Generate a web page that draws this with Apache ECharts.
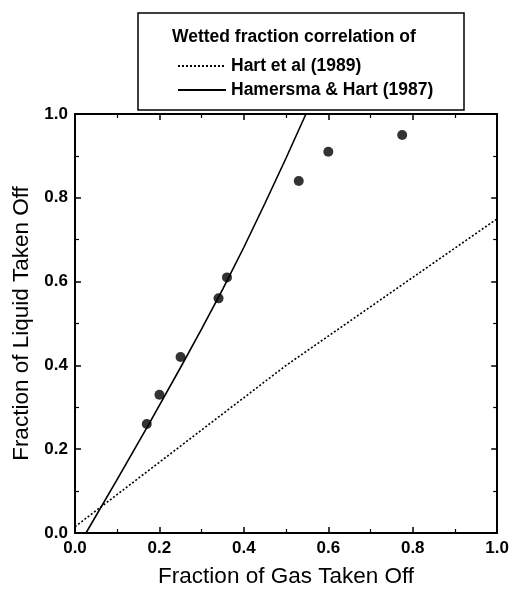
<!DOCTYPE html>
<html lang="en">
<head>
  <meta charset="UTF-8" />
  <title>Wetted fraction correlation</title>
  <script src="https://cdn.jsdelivr.net/npm/echarts@6/dist/echarts.min.js"></script>
</head>
<body style="margin:0;background:#fff">
  <div id="main" style="width:512px;height:593px;"></div>
  <script type="text/javascript">
    // measured points (gas fraction, liquid fraction)
    var gasTaken = [0.17, 0.20, 0.25, 0.34, 0.36, 0.53, 0.60, 0.775]
    var liquidTaken = [0.26, 0.33, 0.42, 0.56, 0.61, 0.84, 0.91, 0.95]

    // Hart et al (1989) correlation
    var hartX = [0.0, 0.5, 1.0]
    var hartY = [0.015, 0.40, 0.75]

    // Hamersma & Hart (1987) correlation
    var hamX = [0.026, 0.10, 0.175, 0.25, 0.30, 0.35, 0.40, 0.45, 0.50, 0.547]
    var hamY = [0.0, 0.128, 0.26, 0.395, 0.487, 0.582, 0.682, 0.787, 0.895, 1.0]

    var tickLabels = ['0.0', '0.2', '0.4', '0.6', '0.8', '1.0']

    function pairs(xs, ys) {
      return xs.map(function (x, i) { return [x, ys[i]] })
    }

    var font = 'Liberation Sans, Arial, sans-serif'
    var labelFmt = function (v) { return tickLabels[Math.round(v * 5)] }

    // common look of the boxed axes
    function axis(extra) {
      var a = {
        type: 'value', min: 0, max: 1, interval: 0.2,
        axisLine: { show: true, onZero: false, lineStyle: { color: '#000', width: 2 } },
        axisTick: { show: true, inside: true, length: 6, lineStyle: { color: '#000', width: 1.5 } },
        minorTick: { show: true, splitNumber: 2, length: 4, lineStyle: { color: '#000', width: 1.2 } },
        splitLine: { show: false },
        axisLabel: { show: false }
      }
      return Object.assign(a, extra)
    }

    var myChart = echarts.init(document.getElementById('main'))

    var option = {
      backgroundColor: '#fff',
      animation: false,
      grid: { left: 75, right: 13, top: 114, bottom: 59, containLabel: false },
      xAxis: [
        axis({
          position: 'bottom',
          name: 'Fraction of Gas Taken Off',
          nameLocation: 'middle',
          nameGap: 32,
          nameTextStyle: { fontFamily: font, fontSize: 22.5, color: '#000' },
          axisLabel: {
            show: true, margin: 7, formatter: labelFmt,
            fontFamily: font, fontSize: 17, fontWeight: 'bold', color: '#000'
          }
        }),
        axis({ position: 'top' })
      ],
      yAxis: [
        axis({
          position: 'left',
          name: 'Fraction of Liquid Taken Off',
          nameLocation: 'middle',
          nameGap: 41,
          nameTextStyle: { fontFamily: font, fontSize: 22.5, color: '#000' },
          axisLabel: {
            show: true, margin: 7, formatter: labelFmt,
            fontFamily: font, fontSize: 17, fontWeight: 'bold', color: '#000'
          }
        }),
        axis({ position: 'right' })
      ],
      legend: {
        orient: 'vertical',
        left: 172,
        top: 52,
        itemWidth: 48,
        itemHeight: 14,
        itemGap: 6,
        itemStyle: { opacity: 0 },
        data: ['Hart et al (1989)', 'Hamersma & Hart (1987)'],
        textStyle: { fontFamily: font, fontSize: 17.5, fontWeight: 'bold', color: '#000' }
      },
      graphic: [
        {
          type: 'rect',
          shape: { x: 138, y: 13, width: 326, height: 97 },
          style: { fill: '#fff', stroke: '#000', lineWidth: 1.5 },
          z: 0
        },
        {
          type: 'text',
          left: 172,
          top: 28,
          style: {
            text: 'Wetted fraction correlation of',
            font: 'bold 17.5px ' + font,
            fill: '#000'
          },
          z: 10
        }
      ],
      series: [
        {
          name: 'Hart et al (1989)',
          type: 'line',
          data: pairs(hartX, hartY),
          symbol: 'none',
          lineStyle: { color: '#000', width: 1.6, type: [2, 2] },
          itemStyle: { color: '#000' },
          z: 3
        },
        {
          name: 'Hamersma & Hart (1987)',
          type: 'line',
          data: pairs(hamX, hamY),
          symbol: 'none',
          lineStyle: { color: '#000', width: 1.6 },
          itemStyle: { color: '#000' },
          z: 3
        },
        {
          name: 'data',
          type: 'scatter',
          data: pairs(gasTaken, liquidTaken),
          symbol: 'circle',
          symbolSize: 10,
          itemStyle: { color: '#000' },
          z: 4
        }
      ]
    }

    myChart.setOption(option)
  </script>
</body>
</html>
